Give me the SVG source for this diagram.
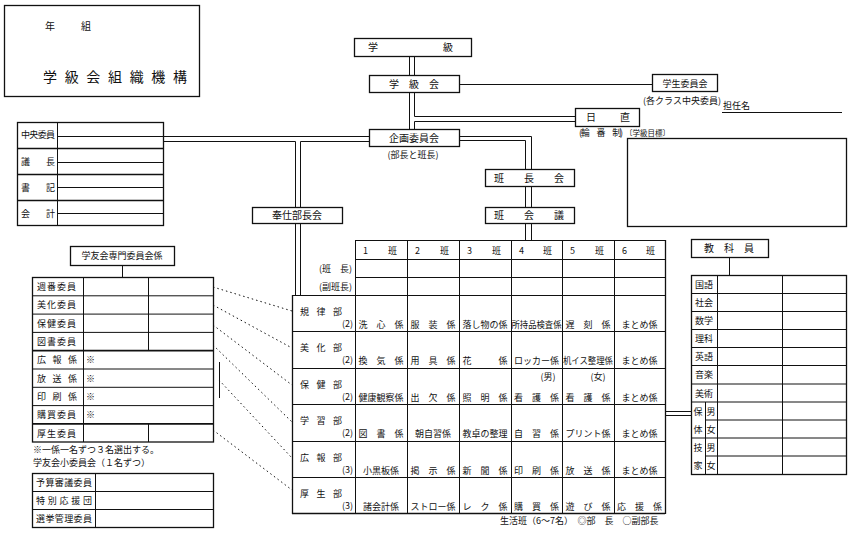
<svg xmlns="http://www.w3.org/2000/svg" width="854" height="534" viewBox="0 0 854 534">
<style>
.b{fill:none;stroke:#111;stroke-width:1.3}
.l{fill:none;stroke:#111;stroke-width:1}
.d{fill:none;stroke:#111;stroke-width:1;stroke-dasharray:1.5 3}
text{font-family:"Noto Sans CJK JP","Noto Sans CJK SC",sans-serif;fill:#111;font-size:9px}
.m{text-anchor:middle}
.e{text-anchor:end}
.n{font-size:10px}
</style>
<rect width="854" height="534" fill="#fff"/>

<g id="title">
<rect class="b" x="4.5" y="5.5" width="195" height="91"/>
<text x="45" y="30" class="n">年</text><text x="81" y="30" class="n">組</text>
<text x="43" y="82" style="font-size:14px" textLength="144">学級会組織機構</text>
</g>

<g id="gakkyu"><rect class="b" x="354.5" y="38.5" width="117" height="18"/>
<text x="368" y="51" class="n">学</text><text x="443" y="51" class="n">級</text></g>

<g id="gakkyukai"><rect class="b" x="369.5" y="75.5" width="90" height="17"/>
<text x="414" y="88" class="n m">学　級　会</text></g>

<g id="gakusei"><rect class="b" x="652.5" y="74.5" width="65" height="17"/>
<text x="685" y="87" class="m">学生委員会</text>
<text x="682" y="104" class="m">(各クラス中央委員)</text></g>

<g id="tannin"><text x="723" y="109">担任名</text><line class="l" x1="722" y1="112.5" x2="842" y2="112.5"/></g>

<g id="nicchoku"><rect class="b" x="575.5" y="108.5" width="64" height="18"/>
<text x="586" y="121" class="n">日</text><text x="620" y="121" class="n">直</text>
<text x="579" y="136" textLength="44">(輪　番　制)</text>
<text x="625" y="136" style="font-size:7.5px">〔学級目標〕</text></g>

<g id="mokuhyo"><rect class="b" x="627.5" y="138.5" width="219" height="88"/></g>

<g id="kikaku"><rect class="b" x="369.5" y="129.5" width="90" height="17"/>
<text x="414" y="142" class="n m">企画委員会</text>
<text x="413" y="158" class="m">(部長と班長)</text></g>

<g id="hanchokai"><rect class="b" x="485.5" y="169.5" width="89" height="17"/>
<text x="529" y="182" class="n m">班　　長　　会</text></g>

<g id="hankaigi"><rect class="b" x="485.5" y="207.5" width="89" height="16"/>
<text x="529" y="219" class="n m">班　　会　　議</text></g>

<g id="hoshi"><rect class="b" x="252.5" y="207.5" width="90" height="16"/>
<text x="297" y="219" class="n m">奉仕部長会</text></g>

<g id="chuo">
<rect class="b" x="17.5" y="122.5" width="146" height="103"/>
<line class="l" x1="57.5" y1="122" x2="57.5" y2="225"/>
<line class="b" x1="17" y1="148.5" x2="163" y2="148.5"/>
<line class="b" x1="17" y1="174.5" x2="163" y2="174.5"/>
<line class="b" x1="17" y1="200.5" x2="163" y2="200.5"/>
<line class="l" x1="57" y1="136.5" x2="163" y2="136.5"/>
<line class="l" x1="57" y1="162.5" x2="163" y2="162.5"/>
<line class="l" x1="57" y1="187.5" x2="163" y2="187.5"/>
<line class="l" x1="57" y1="213.5" x2="163" y2="213.5"/>
<text x="21" y="138" textLength="34">中央委員</text>
<text x="21" y="165">議</text><text x="46" y="165">長</text>
<text x="21" y="191">書</text><text x="46" y="191">記</text>
<text x="21" y="217">会</text><text x="46" y="217">計</text>
</g>

<g id="senmon">
<rect class="b" x="70.5" y="246.5" width="104" height="19"/>
<text x="122" y="259" class="m">学友会専門委員会係</text>
<line class="l" x1="122.5" y1="265" x2="122.5" y2="277"/>
</g>

<g id="iin">
<rect class="b" x="32.5" y="277.5" width="181" height="164.5"/>
<line class="l" x1="83.5" y1="277" x2="83.5" y2="442"/>
<line class="l" x1="148.5" y1="277" x2="148.5" y2="350"/>
<line class="l" x1="148.5" y1="423.5" x2="148.5" y2="442"/>
<g class="l">
<line x1="32" y1="295.8" x2="213" y2="295.8"/>
<line x1="32" y1="314.1" x2="213" y2="314.1"/>
<line x1="32" y1="332.4" x2="213" y2="332.4"/>
<line x1="32" y1="350.7" x2="213" y2="350.7" stroke-width="1.8"/>
<line x1="32" y1="369" x2="213" y2="369"/>
<line x1="32" y1="387.3" x2="213" y2="387.3"/>
<line x1="32" y1="405.6" x2="213" y2="405.6"/>
<line x1="32" y1="423.9" x2="213" y2="423.9" stroke-width="1.8"/>
</g>
<text x="37" y="290" textLength="39">週番委員</text>
<text x="37" y="308" textLength="39">美化委員</text>
<text x="37" y="327" textLength="39">保健委員</text>
<text x="37" y="345" textLength="39">図書委員</text>
<text x="37" y="363" textLength="40">広　報　係</text><text x="86" y="363">※</text>
<text x="37" y="382" textLength="40">放　送　係</text><text x="86" y="382">※</text>
<text x="37" y="400" textLength="40">印　刷　係</text><text x="86" y="400">※</text>
<text x="37" y="418" textLength="39">購買委員</text><text x="86" y="418">※</text>
<text x="37" y="437" textLength="39">厚生委員</text>
<line class="l" x1="219.5" y1="362" x2="219.5" y2="398"/>
<text x="33" y="453">※一係一名ずつ３名選出する。</text>
<text x="33" y="466">学友会小委員会（１名ずつ）</text>
</g>

<g id="shoiin">
<rect class="b" x="32.5" y="473.5" width="181" height="54"/>
<line class="l" x1="95.5" y1="473" x2="95.5" y2="527"/>
<line class="l" x1="32" y1="491.5" x2="213" y2="491.5"/>
<line class="l" x1="32" y1="509.5" x2="213" y2="509.5"/>
<text x="36" y="486" textLength="56">予算審議委員</text>
<text x="36" y="504" textLength="56">特別応援団</text>
<text x="36" y="522" textLength="56">選挙管理委員</text>
</g>

<g id="kyoka">
<rect class="b" x="691.5" y="239.5" width="77" height="18"/>
<text x="729" y="252" class="n m">教　科　員</text>
<line class="l" x1="729.5" y1="257" x2="729.5" y2="275"/>
</g>

<g id="kyokatable">
<rect class="b" x="691.5" y="275.5" width="155" height="199"/>
<line class="l" x1="717.5" y1="275" x2="717.5" y2="474"/>
<line class="l" x1="782.5" y1="275" x2="782.5" y2="474"/>
<line class="l" x1="705.5" y1="402" x2="705.5" y2="474"/>
<g class="l">
<line x1="691" y1="293.5" x2="846" y2="293.5"/>
<line x1="691" y1="311.5" x2="846" y2="311.5"/>
<line x1="691" y1="329.5" x2="846" y2="329.5"/>
<line x1="691" y1="347.5" x2="846" y2="347.5"/>
<line x1="691" y1="365.5" x2="846" y2="365.5"/>
<line x1="691" y1="384" x2="846" y2="384"/>
<line x1="691" y1="402" x2="846" y2="402"/>
<line x1="705" y1="420" x2="846" y2="420"/>
<line x1="691" y1="438" x2="846" y2="438"/>
<line x1="705" y1="456" x2="846" y2="456"/>
</g>
<text x="704" y="288" class="m">国語</text>
<text x="704" y="306" class="m">社会</text>
<text x="704" y="324" class="m">数学</text>
<text x="704" y="342" class="m">理科</text>
<text x="704" y="360" class="m">英語</text>
<text x="704" y="378" class="m">音楽</text>
<text x="704" y="397" class="m">美術</text>
<text x="698" y="415" class="m">保</text><text x="711" y="415" class="m">男</text>
<text x="698" y="433" class="m">体</text><text x="711" y="433" class="m">女</text>
<text x="698" y="451" class="m">技</text><text x="711" y="451" class="m">男</text>
<text x="698" y="469" class="m">家</text><text x="711" y="469" class="m">女</text>
</g>

<g id="seikatsuhan">
<g class="l">
<line x1="355" y1="240.5" x2="665" y2="240.5"/>
<line x1="355" y1="259.5" x2="665" y2="259.5"/>
<line x1="355" y1="277.5" x2="665" y2="277.5"/>
<line x1="292" y1="295.5" x2="665" y2="295.5"/>
<line x1="292" y1="331.5" x2="665" y2="331.5"/>
<line x1="292" y1="368.5" x2="665" y2="368.5"/>
<line x1="292" y1="404.5" x2="665" y2="404.5"/>
<line x1="292" y1="441.5" x2="665" y2="441.5"/>
<line x1="292" y1="477.5" x2="665" y2="477.5"/>
<line x1="292" y1="513.5" x2="665" y2="513.5" stroke-width="1.3"/>
<line x1="292.5" y1="295" x2="292.5" y2="514" stroke-width="1.3"/>
<line x1="355.5" y1="240" x2="355.5" y2="514"/>
<line x1="407.5" y1="240" x2="407.5" y2="514"/>
<line x1="459.5" y1="240" x2="459.5" y2="514"/>
<line x1="511.5" y1="240" x2="511.5" y2="514"/>
<line x1="562.5" y1="240" x2="562.5" y2="514"/>
<line x1="614.5" y1="240" x2="614.5" y2="514"/>
<line x1="665.5" y1="240" x2="665.5" y2="514" stroke-width="1.3"/>
</g>
<g class="n">
<text x="363" y="254">1</text><text x="388" y="254">班</text>
<text x="415" y="254">2</text><text x="440" y="254">班</text>
<text x="467" y="254">3</text><text x="492" y="254">班</text>
<text x="519" y="254">4</text><text x="543" y="254">班</text>
<text x="570" y="254">5</text><text x="595" y="254">班</text>
<text x="622" y="254">6</text><text x="646" y="254">班</text>
</g>
<text x="352" y="272" class="e">(班　長)</text>
<text x="352" y="290" class="e">(副班長)</text>

<g class="n">
<text x="300" y="315" textLength="42">規律部</text>
<text x="300" y="351" textLength="42">美化部</text>
<text x="300" y="388" textLength="42">保健部</text>
<text x="300" y="424" textLength="42">学習部</text>
<text x="300" y="461" textLength="42">広報部</text>
<text x="300" y="497" textLength="42">厚生部</text>
</g>
<g style="font-size:8px">
<text x="353" y="327" class="e">(2)</text>
<text x="353" y="363" class="e">(2)</text>
<text x="353" y="400" class="e">(2)</text>
<text x="353" y="436" class="e">(2)</text>
<text x="353" y="473" class="e">(3)</text>
<text x="353" y="509" class="e">(3)</text>
</g>

<text x="381" y="328" class="m">洗　心　係</text>
<text x="433" y="328" class="m">服　装　係</text>
<text x="485" y="328" class="m">落し物の係</text>
<text x="536.5" y="328" class="m" textLength="50" lengthAdjust="spacingAndGlyphs">所持品検査係</text>
<text x="588" y="328" class="m">遅　刻　係</text>
<text x="639.5" y="328" class="m">まとめ係</text>

<text x="381" y="364" class="m">換　気　係</text>
<text x="433" y="364" class="m">用　具　係</text>
<text x="485" y="364" class="m">花　　　係</text>
<text x="536.5" y="364" class="m">ロッカー係</text>
<text x="588" y="364" class="m" textLength="50" lengthAdjust="spacingAndGlyphs">机イス整理係</text>
<text x="639.5" y="364" class="m">まとめ係</text>

<text x="381" y="401" class="m">健康観察係</text>
<text x="433" y="401" class="m">出　欠　係</text>
<text x="485" y="401" class="m">照　明　係</text>
<text x="548" y="380" class="m">(男)</text>
<text x="536.5" y="401" class="m">看　護　係</text>
<text x="598" y="380" class="m">(女)</text>
<text x="588" y="401" class="m">看　護　係</text>
<text x="639.5" y="401" class="m">まとめ係</text>

<text x="381" y="437" class="m">図　書　係</text>
<text x="433" y="437" class="m">朝自習係</text>
<text x="485" y="437" class="m">教卓の整理</text>
<text x="536.5" y="437" class="m">自　習　係</text>
<text x="588" y="437" class="m">プリント係</text>
<text x="639.5" y="437" class="m">まとめ係</text>

<text x="381" y="474" class="m">小黒板係</text>
<text x="433" y="474" class="m">掲　示　係</text>
<text x="485" y="474" class="m">新　聞　係</text>
<text x="536.5" y="474" class="m">印　刷　係</text>
<text x="588" y="474" class="m">放　送　係</text>
<text x="639.5" y="474" class="m">まとめ係</text>

<text x="381" y="510" class="m">諸会計係</text>
<text x="433" y="510" class="m">ストロー係</text>
<text x="485" y="510" class="m">レ　ク　係</text>
<text x="536.5" y="510" class="m">購　買　係</text>
<text x="588" y="510" class="m">遊　び　係</text>
<text x="639.5" y="510" class="m">応　援　係</text>

<text x="500" y="524">生活班（6～7名）　◎部　長　○副部長</text>
</g>

<g id="connectors">
<path class="l" d="M409.5,56V75M414.5,56V75"/>
<path class="l" d="M409.5,92V129"/>
<path class="l" d="M414.5,92V116.5H575"/>
<path class="l" d="M575,121.5H414.5V129"/>
<path class="l" d="M459,84.5H652"/>
<path class="l" d="M163,136.5H369M163,141.5H295.5V207M369,141.5H300.5V207"/>
<path class="l" d="M459,136.5H531.5V169M459,140.5H525.5V169"/>
<path class="l" d="M525.5,186V207M531.5,186V207"/>
<path class="l" d="M525.5,223V240M531.5,223V240"/>
<path class="l" d="M295.5,223V295M300.5,223V295"/>
<path class="l" d="M665,411.5H691M665,415.5H691"/>
<path class="d" d="M213,287L292,311"/>
<path class="d" d="M213,305L292,348"/>
<path class="d" d="M213,325L292,385"/>
<path class="d" d="M213,345L292,422"/>
<path class="d" d="M219,380L292,458"/>
<path class="d" d="M213,430L292,490"/>
</g>
</svg>
